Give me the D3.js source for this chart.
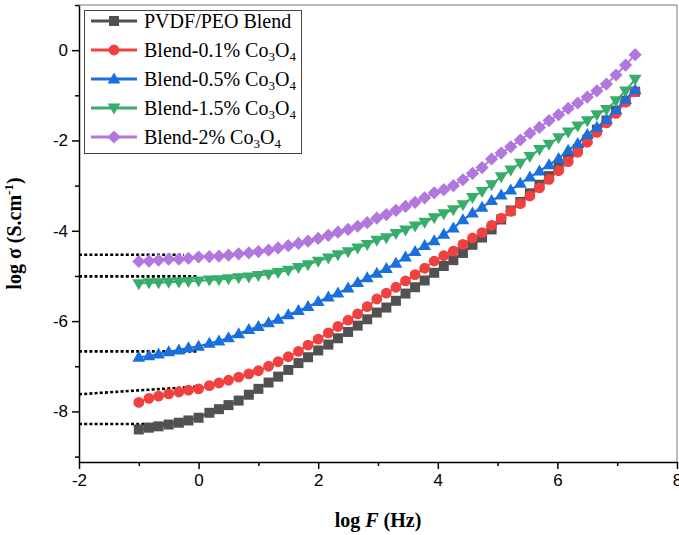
<!DOCTYPE html>
<html><head><meta charset="utf-8">
<script src="https://cdn.jsdelivr.net/npm/d3@7"></script>
<style>body{margin:0;background:#fff}</style>
</head><body>
<svg id="chart" width="679" height="535"></svg>
<script>
// log F (Hz) sample points shared by every sweep
const logF = [-1.00,-0.83,-0.67,-0.50,-0.33,-0.17,0.00,0.18,0.34,0.50,0.67,0.84,1.00,1.17,1.33,1.50,1.67,1.83,2.00,2.17,2.33,2.50,2.66,2.82,2.98,3.14,3.30,3.46,3.62,3.78,3.94,4.10,4.26,4.42,4.58,4.74,4.90,5.06,5.22,5.38,5.54,5.70,5.86,6.02,6.18,6.34,6.50,6.66,6.82,6.98,7.14,7.30];

// log sigma (S/cm) for each sample
const sigBlend = [-8.40,-8.36,-8.33,-8.29,-8.25,-8.20,-8.14,-8.03,-7.95,-7.86,-7.76,-7.63,-7.50,-7.36,-7.23,-7.08,-6.93,-6.80,-6.65,-6.52,-6.38,-6.24,-6.10,-5.96,-5.81,-5.70,-5.55,-5.39,-5.25,-5.10,-4.93,-4.78,-4.65,-4.49,-4.31,-4.15,-3.97,-3.75,-3.55,-3.36,-3.17,-2.98,-2.79,-2.60,-2.40,-2.19,-1.98,-1.76,-1.56,-1.34,-1.12,-0.92];
const sig01 = [-7.80,-7.71,-7.66,-7.61,-7.57,-7.53,-7.50,-7.43,-7.37,-7.31,-7.24,-7.17,-7.10,-7.00,-6.90,-6.79,-6.67,-6.53,-6.40,-6.26,-6.12,-5.98,-5.84,-5.68,-5.51,-5.38,-5.25,-5.11,-4.97,-4.83,-4.67,-4.55,-4.45,-4.30,-4.16,-4.04,-3.88,-3.72,-3.57,-3.40,-3.23,-3.05,-2.86,-2.67,-2.47,-2.26,-2.04,-1.82,-1.61,-1.40,-1.15,-0.92];
const sig05 = [-6.80,-6.77,-6.73,-6.68,-6.64,-6.59,-6.56,-6.49,-6.44,-6.37,-6.28,-6.19,-6.12,-6.04,-5.96,-5.86,-5.77,-5.68,-5.57,-5.47,-5.38,-5.27,-5.15,-5.04,-4.94,-4.84,-4.72,-4.58,-4.46,-4.33,-4.22,-4.08,-3.94,-3.76,-3.61,-3.48,-3.33,-3.21,-3.10,-2.95,-2.81,-2.68,-2.54,-2.40,-2.22,-2.07,-1.87,-1.71,-1.54,-1.32,-1.09,-0.88];
const sig15 = [-5.17,-5.15,-5.15,-5.14,-5.13,-5.12,-5.11,-5.09,-5.08,-5.06,-5.04,-5.02,-4.99,-4.96,-4.92,-4.87,-4.81,-4.75,-4.67,-4.60,-4.53,-4.46,-4.38,-4.30,-4.21,-4.15,-4.06,-3.98,-3.89,-3.81,-3.71,-3.62,-3.53,-3.42,-3.26,-3.13,-2.98,-2.80,-2.65,-2.50,-2.35,-2.20,-2.08,-1.94,-1.81,-1.68,-1.56,-1.43,-1.31,-1.12,-0.90,-0.64];
const sig2 = [-4.68,-4.67,-4.65,-4.63,-4.63,-4.61,-4.58,-4.57,-4.56,-4.54,-4.51,-4.49,-4.46,-4.43,-4.38,-4.33,-4.28,-4.23,-4.17,-4.10,-4.03,-3.97,-3.90,-3.82,-3.72,-3.64,-3.55,-3.46,-3.37,-3.27,-3.16,-3.09,-3.00,-2.87,-2.73,-2.60,-2.41,-2.28,-2.14,-1.99,-1.84,-1.71,-1.56,-1.43,-1.29,-1.17,-1.04,-0.90,-0.75,-0.55,-0.33,-0.10];

// dc plateau extrapolations (x, y end points)
const dcBlend = [[-2,-8.28],[-0.3,-8.28]];
const dc01 = [[-2,-7.62],[-0.02,-7.45]];
const dc05 = [[-2,-6.67],[0,-6.67]];
const dc15 = [[-2,-5.01],[0,-5.01]];
const dc2 = [[-2,-4.53],[-0.25,-4.53]];

const seriesNames = ["PVDF/PEO Blend","Blend-0.1% ","Blend-0.5% ","Blend-1.5% ","Blend-2% "];
const seriesOxide = [false,true,true,true,true];
const seriesColors = ["#515151","#F14040","#1A6FDF","#37AD6B","#B177DE"];
const seriesSymbols = ["square","circle","triangle","triangleDown","diamond"];
const seriesValues = [sigBlend,sig01,sig05,sig15,sig2];
const dcLines = [dcBlend,dc01,dc05,dc15,dc2];

const xTicks = [-2,0,2,4,6,8];
const xMinor = [-1,1,3,5,7];
const yTicks = [-8,-6,-4,-2,0];
const yMinor = [-9,-7,-5,-3,-1,1];

const svg = d3.select("#chart");
const plotL = 79, plotR = 677, plotT = 5, plotB = 462;
const x = d3.scaleLinear().domain([-2,8]).range([plotL,plotR]);
const y = d3.scaleLinear().domain([-9.12,1.0]).range([plotB,plotT]);
const fmt = d => String(d);

// frame: top/right lines in grey
svg.append("line").attr("x1",plotL).attr("x2",plotR).attr("y1",plotT).attr("y2",plotT)
  .attr("stroke","#777").attr("stroke-width",1);
svg.append("line").attr("x1",plotR).attr("x2",plotR).attr("y1",plotT).attr("y2",plotB)
  .attr("stroke","#777").attr("stroke-width",1);

function symbolPath(kind){
  switch(kind){
    case "square": return d3.symbol(d3.symbolSquare, 100)();
    case "circle": return d3.symbol(d3.symbolCircle, 92)();
    case "triangle": return "M0,-6.6L6.4,4.4L-6.4,4.4Z";
    case "triangleDown": return "M0,6.6L6.4,-4.4L-6.4,-4.4Z";
    case "diamond": return "M0,-6.6L6.6,0L0,6.6L-6.6,0Z";
  }
}

// dotted dc lines
const dcLine = d3.line().x(d=>x(d[0])).y(d=>y(d[1]));
dcLines.forEach(pts=>{
  svg.append("path").attr("d",dcLine(pts)).attr("fill","none")
    .attr("stroke","#000").attr("stroke-width",2.6).attr("stroke-dasharray","3,2.2");
});

// data series
const line = d3.line().x((d,i)=>x(logF[i])).y(d=>y(d));
seriesValues.forEach((vals,k)=>{
  const g = svg.append("g");
  g.append("path").attr("d",line(vals)).attr("fill","none")
    .attr("stroke",seriesColors[k]).attr("stroke-width",2);
  g.selectAll("path.m").data(vals).enter().append("path").attr("class","m")
    .attr("d",symbolPath(seriesSymbols[k]))
    .attr("transform",(d,i)=>`translate(${x(logF[i])},${y(d)})`)
    .attr("fill",seriesColors[k]);
});

// axes
const xAxis = svg.append("g").attr("transform",`translate(0,${plotB})`);
xAxis.call(d3.axisBottom(x).tickValues(xTicks).tickSize(7).tickSizeOuter(0).tickPadding(5).tickFormat(fmt));
xAxis.append("g").call(d3.axisBottom(x).tickValues(xMinor).tickSize(4).tickFormat(""))
  .select(".domain").remove();
const yAxis = svg.append("g").attr("transform",`translate(${plotL},0)`);
yAxis.call(d3.axisLeft(y).tickValues(yTicks).tickSize(7).tickSizeOuter(0).tickPadding(4).tickFormat(fmt));
yAxis.append("g").call(d3.axisLeft(y).tickValues(yMinor).tickSize(4).tickFormat(""))
  .select(".domain").remove();
svg.selectAll(".domain").attr("stroke","#000").attr("stroke-width",1.5);
svg.selectAll(".tick line").attr("stroke","#000").attr("stroke-width",1.5);
svg.selectAll(".tick text").attr("font-family","'Liberation Sans', Arial, sans-serif")
  .attr("font-size",17).attr("fill","#000");

// axis titles
svg.append("text").attr("x",(plotL+plotR)/2).attr("y",527).attr("text-anchor","middle")
  .attr("font-family","'Liberation Serif','Times New Roman',serif").attr("font-weight","bold")
  .attr("font-size",20)
  .call(t=>{ t.append("tspan").text("log ");
    t.append("tspan").attr("font-style","italic").text("F");
    t.append("tspan").text(" (Hz)"); });

const yt = svg.append("text").attr("transform",`translate(21,${(plotT+plotB)/2}) rotate(-90)`)
  .attr("text-anchor","middle")
  .attr("font-family","'Liberation Serif','Times New Roman',serif").attr("font-weight","bold")
  .attr("font-size",20);
yt.append("tspan").text("log σ (S.cm");
yt.append("tspan").attr("font-size",13).attr("dy",-8).text("-1");
yt.append("tspan").attr("dy",8).text(")");

// legend
const lg = svg.append("g");
lg.append("rect").attr("x",84.5).attr("y",10.5).attr("width",217).attr("height",143)
  .attr("fill","#fff").attr("stroke","#444").attr("stroke-width",1);
seriesNames.forEach((name,k)=>{
  const cy = 21 + k*29;
  lg.append("line").attr("x1",91).attr("x2",137).attr("y1",cy).attr("y2",cy)
    .attr("stroke",seriesColors[k]).attr("stroke-width",3);
  lg.append("path").attr("d",symbolPath(seriesSymbols[k]))
    .attr("transform",`translate(114,${cy})`).attr("fill",seriesColors[k]);
  const t = lg.append("text").attr("x",144).attr("y",cy+7)
    .attr("font-family","'Liberation Serif','Times New Roman',serif").attr("font-size",20)
    .attr("fill","#000");
  t.append("tspan").text(name);
  if(seriesOxide[k]){
    t.append("tspan").text("Co");
    t.append("tspan").attr("font-size",13).attr("dy",4).text("3");
    t.append("tspan").attr("dy",-4).text("O");
    t.append("tspan").attr("font-size",13).attr("dy",4).text("4");
  }
});
</script>
</body></html>
